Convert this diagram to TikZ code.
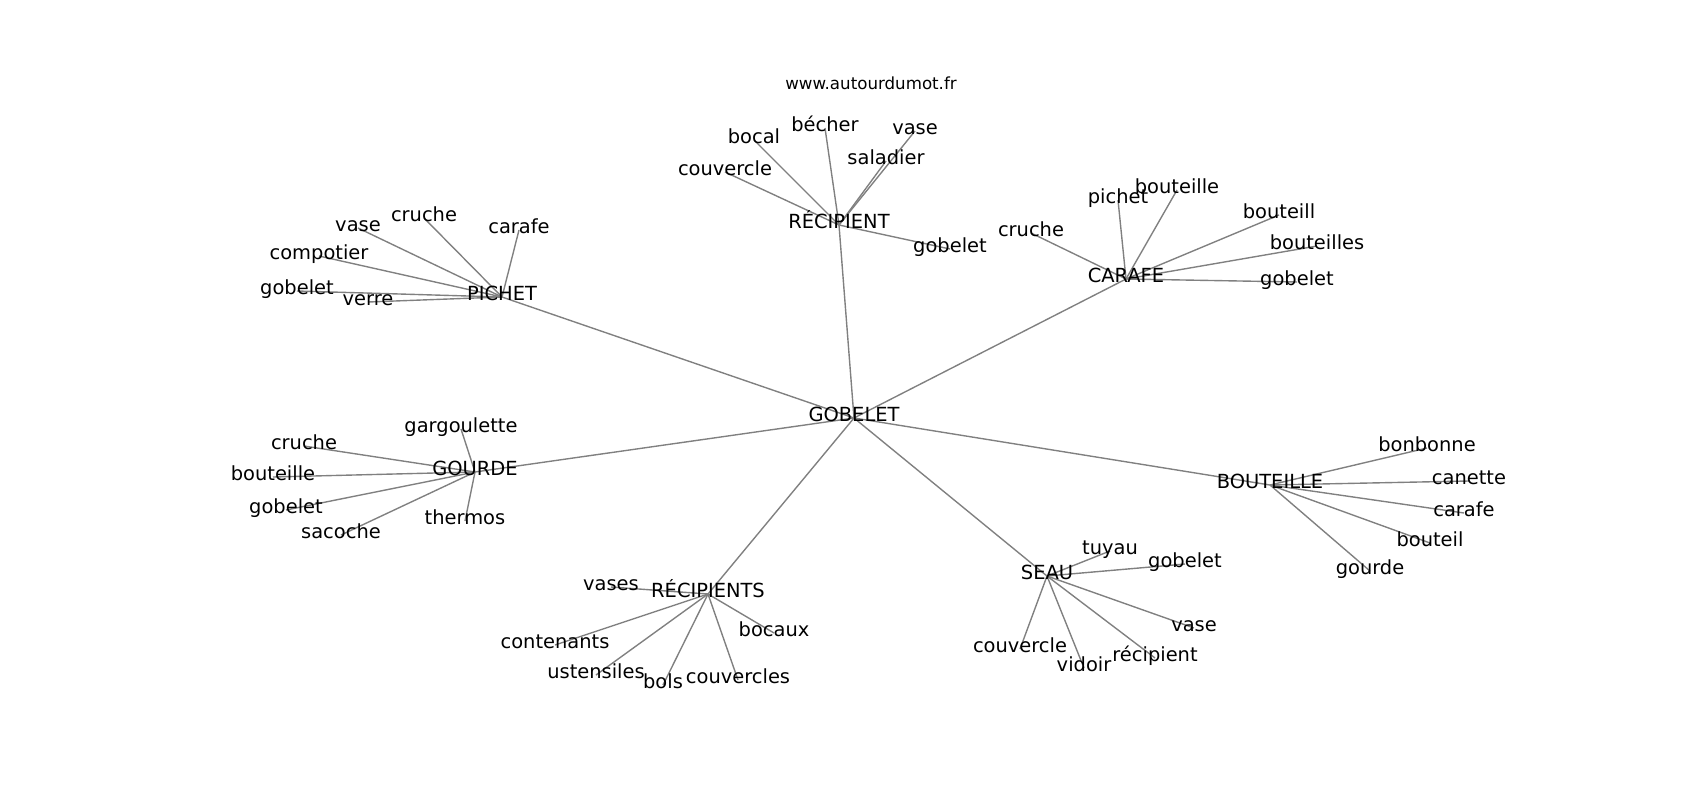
\documentclass[tikz,border=0pt]{standalone}
\usepackage{fontspec}
\setmainfont{DejaVu Sans}
\usetikzlibrary{backgrounds}
\begin{document}
\begin{tikzpicture}[x=0.72pt, y=-0.72pt,
		word/.style={inner sep=0pt, text height=0.76em, text depth=0.208em, font=\fontsize{14}{17}\selectfont},
		sitelabel/.style={word, font=\fontsize{12}{14}\selectfont},
		link/.style={gray, line width=1pt}]
	\useasboundingbox (0,-3) rectangle (1700,797);
	\node[sitelabel] (site) at (871,83) {www.autourdumot.fr};
	% centre
	\node[word] (gobelet) at (854,415) {GOBELET};
	% PICHET
	\node[word] (pichet) at (502,294) {PICHET};
	\node[word] (pi-vase) at (358,225) {vase};
	\node[word] (pi-cruche) at (424,215) {cruche};
	\node[word] (pi-carafe) at (519,227) {carafe};
	\node[word] (pi-compotier) at (319,253) {compotier};
	\node[word] (pi-gobelet) at (297,288) {gobelet};
	\node[word] (pi-verre) at (368,299) {verre};
	% RÉCIPIENT
	\node[word] (recipient) at (839,222) {RÉCIPIENT};
	\node[word] (re-bocal) at (754,137) {bocal};
	\node[word] (re-becher) at (825,125) {bécher};
	\node[word] (re-vase) at (915,128) {vase};
	\node[word] (re-saladier) at (886,158) {saladier};
	\node[word] (re-couvercle) at (725,169) {couvercle};
	\node[word] (re-gobelet) at (950,246) {gobelet};
	% CARAFE
	\node[word] (carafe) at (1126,276) {CARAFE};
	\node[word] (ca-cruche) at (1031,230) {cruche};
	\node[word] (ca-pichet) at (1118,197) {pichet};
	\node[word] (ca-bouteille) at (1177,187) {bouteille};
	\node[word] (ca-bouteill) at (1279,212) {bouteill};
	\node[word] (ca-bouteilles) at (1317,243) {bouteilles};
	\node[word] (ca-gobelet) at (1297,279) {gobelet};
	% GOURDE
	\node[word] (gourde) at (475,469) {GOURDE};
	\node[word] (go-gargoulette) at (461,426) {gargoulette};
	\node[word] (go-cruche) at (304,443) {cruche};
	\node[word] (go-bouteille) at (273,474) {bouteille};
	\node[word] (go-gobelet) at (286,507) {gobelet};
	\node[word] (go-sacoche) at (341,532) {sacoche};
	\node[word] (go-thermos) at (465,518) {thermos};
	% BOUTEILLE
	\node[word] (bouteille) at (1270,482) {BOUTEILLE};
	\node[word] (bo-bonbonne) at (1427,445) {bonbonne};
	\node[word] (bo-canette) at (1469,478) {canette};
	\node[word] (bo-carafe) at (1464,510) {carafe};
	\node[word] (bo-bouteil) at (1430,540) {bouteil};
	\node[word] (bo-gourde) at (1370,568) {gourde};
	% RÉCIPIENTS
	\node[word] (recipients) at (708,591) {RÉCIPIENTS};
	\node[word] (rs-vases) at (611,584) {vases};
	\node[word] (rs-bocaux) at (774,630) {bocaux};
	\node[word] (rs-contenants) at (555,642) {contenants};
	\node[word] (rs-ustensiles) at (596,672) {ustensiles};
	\node[word] (rs-bols) at (663,682) {bols};
	\node[word] (rs-couvercles) at (738,677) {couvercles};
	% SEAU
	\node[word] (seau) at (1047,573) {SEAU};
	\node[word] (se-tuyau) at (1110,548) {tuyau};
	\node[word] (se-gobelet) at (1185,561) {gobelet};
	\node[word] (se-vase) at (1194,625) {vase};
	\node[word] (se-couvercle) at (1020,646) {couvercle};
	\node[word] (se-vidoir) at (1084,665) {vidoir};
	\node[word] (se-recipient) at (1155,655) {récipient};
	% edges under the words
	\begin{scope}[on background layer]
		\draw[link] (gobelet.center) -- (pichet.center);
		\draw[link] (gobelet.center) -- (recipient.center);
		\draw[link] (gobelet.center) -- (carafe.center);
		\draw[link] (gobelet.center) -- (gourde.center);
		\draw[link] (gobelet.center) -- (bouteille.center);
		\draw[link] (gobelet.center) -- (recipients.center);
		\draw[link] (gobelet.center) -- (seau.center);
		\draw[link] (pichet.center) -- (pi-vase.center);
		\draw[link] (pichet.center) -- (pi-cruche.center);
		\draw[link] (pichet.center) -- (pi-carafe.center);
		\draw[link] (pichet.center) -- (pi-compotier.center);
		\draw[link] (pichet.center) -- (pi-gobelet.center);
		\draw[link] (pichet.center) -- (pi-verre.center);
		\draw[link] (recipient.center) -- (re-bocal.center);
		\draw[link] (recipient.center) -- (re-becher.center);
		\draw[link] (recipient.center) -- (re-vase.center);
		\draw[link] (recipient.center) -- (re-saladier.center);
		\draw[link] (recipient.center) -- (re-couvercle.center);
		\draw[link] (recipient.center) -- (re-gobelet.center);
		\draw[link] (carafe.center) -- (ca-cruche.center);
		\draw[link] (carafe.center) -- (ca-pichet.center);
		\draw[link] (carafe.center) -- (ca-bouteille.center);
		\draw[link] (carafe.center) -- (ca-bouteill.center);
		\draw[link] (carafe.center) -- (ca-bouteilles.center);
		\draw[link] (carafe.center) -- (ca-gobelet.center);
		\draw[link] (gourde.center) -- (go-gargoulette.center);
		\draw[link] (gourde.center) -- (go-cruche.center);
		\draw[link] (gourde.center) -- (go-bouteille.center);
		\draw[link] (gourde.center) -- (go-gobelet.center);
		\draw[link] (gourde.center) -- (go-sacoche.center);
		\draw[link] (gourde.center) -- (go-thermos.center);
		\draw[link] (bouteille.center) -- (bo-bonbonne.center);
		\draw[link] (bouteille.center) -- (bo-canette.center);
		\draw[link] (bouteille.center) -- (bo-carafe.center);
		\draw[link] (bouteille.center) -- (bo-bouteil.center);
		\draw[link] (bouteille.center) -- (bo-gourde.center);
		\draw[link] (recipients.center) -- (rs-vases.center);
		\draw[link] (recipients.center) -- (rs-bocaux.center);
		\draw[link] (recipients.center) -- (rs-contenants.center);
		\draw[link] (recipients.center) -- (rs-ustensiles.center);
		\draw[link] (recipients.center) -- (rs-bols.center);
		\draw[link] (recipients.center) -- (rs-couvercles.center);
		\draw[link] (seau.center) -- (se-tuyau.center);
		\draw[link] (seau.center) -- (se-gobelet.center);
		\draw[link] (seau.center) -- (se-vase.center);
		\draw[link] (seau.center) -- (se-couvercle.center);
		\draw[link] (seau.center) -- (se-vidoir.center);
		\draw[link] (seau.center) -- (se-recipient.center);
	\end{scope}
\end{tikzpicture}
\end{document}
